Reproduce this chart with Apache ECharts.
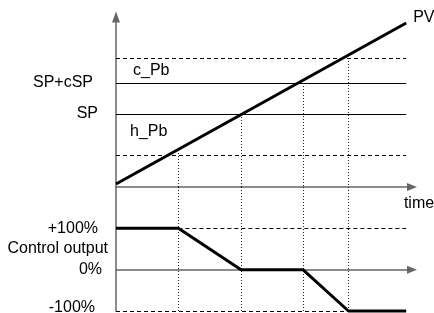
<!DOCTYPE html>
<html>
<head>
<meta charset="utf-8">
<script src="https://cdn.jsdelivr.net/npm/echarts@6/dist/echarts.min.js"></script>
<style>
  html, body { margin: 0; padding: 0; background: #fff; }
  #main { width: 434px; height: 313px; }
</style>
</head>
<body>
<div id="main"></div>
<script>
// values (time 0..100, PV in arbitrary units, output in %)
var timeMax = 102;
var pvTime = [0, 100];
var pvValue = [3, 164];
var lowerBand = 31.5;
var spValue = 73;
var spCspValue = 104;
var upperBand = 129;
var switchTime = [21.5, 43.1, 64.4, 80.1];
var switchPv = [37, 73, 104, 129];
var outTime = [0, 21.5, 43.1, 64.4, 80.1, 100];
var outValue = [100, 100, 0, 0, -100, -100];

var FONT = 'Liberation Sans, Arial, sans-serif';
var AXIS_COLOR = '#666';

function zip(a, b) {
  var r = [];
  for (var i = 0; i < a.length; i++) r.push([a[i], b[i]]);
  return r;
}

var chart = echarts.init(document.getElementById('main'));

var dashed = { color: '#000', width: 1, type: [4, 3] };
var dotted = { color: '#222', width: 1, type: [1, 2] };
var solid = { color: '#000', width: 1, type: 'solid' };

// top panel lines
var topLines = [
  [{ coord: [0, spCspValue], lineStyle: solid, label: { show: true, formatter: 'SP+cSP', distance: 23 } }, { coord: [100, spCspValue] }],
  [{ coord: [0, spValue], lineStyle: solid, label: { show: true, formatter: 'SP', distance: 18 } }, { coord: [100, spValue] }],
  [{ coord: [0, upperBand], lineStyle: dashed }, { coord: [100, upperBand] }],
  [{ coord: [0, lowerBand], lineStyle: dashed }, { coord: [100, lowerBand] }]
];
switchTime.forEach(function (t, i) {
  topLines.push([{ coord: [t, switchPv[i]], lineStyle: dotted }, { coord: [t, 0] }]);
});

// bottom panel lines
var bottomLines = [
  [{ coord: [switchTime[0], 100], lineStyle: dashed }, { coord: [100, 100] }],
  [{ coord: [0, -100], lineStyle: dashed }, { coord: [switchTime[3], -100] }]
];
switchTime.forEach(function (t) {
  bottomLines.push([{ coord: [t, 200], lineStyle: dotted }, { coord: [t, -100] }]);
});

var hidden = { show: false };

var option = {
  animation: false,
  textStyle: { fontFamily: FONT },
  grid: [
    { left: 116, right: 22, top: 17, bottom: 126, containLabel: false, outerBoundsMode: 'none' },
    { left: 116, right: 22, top: 187, bottom: 2, containLabel: false, outerBoundsMode: 'none' }
  ],
  xAxis: [
    {
      type: 'value', gridIndex: 0, min: 0, max: timeMax,
      axisLine: { show: true, onZero: true, symbol: ['none', 'triangle'], symbolSize: [8, 10],
        lineStyle: { color: AXIS_COLOR, width: 1.5 } },
      axisTick: hidden, axisLabel: hidden, splitLine: hidden,
      name: 'time', nameLocation: 'end', nameGap: 7, nameMoveOverlap: false,
      nameTextStyle: { fontSize: 16, color: '#000', fontFamily: FONT, align: 'center', verticalAlign: 'top', padding: [9, 0, 0, 0] }
    },
    {
      type: 'value', gridIndex: 1, min: 0, max: timeMax,
      axisLine: { show: true, onZero: true, symbol: ['none', 'triangle'], symbolSize: [8, 10],
        lineStyle: { color: AXIS_COLOR, width: 1.5 } },
      axisTick: hidden, axisLabel: hidden, splitLine: hidden
    }
  ],
  yAxis: [
    {
      type: 'value', gridIndex: 0, min: 0, max: 170,
      axisLine: { show: true, symbol: ['none', 'triangle'], symbolSize: [8, 11],
        lineStyle: { color: AXIS_COLOR, width: 1.5 } },
      axisTick: hidden, axisLabel: hidden, splitLine: hidden
    },
    {
      type: 'value', gridIndex: 1, min: -100, max: 200, interval: 100,
      axisLine: { show: true, onZero: false, lineStyle: { color: AXIS_COLOR, width: 1.5 } },
      axisTick: hidden, splitLine: hidden,
      axisLabel: {
        show: true, margin: 14, fontSize: 16, color: '#000', fontFamily: FONT,
        showMinLabel: true, showMaxLabel: true, hideOverlap: false,
        formatter: function (v) {
          if (v === 100) return '{p|+100%}';
          if (v === -100) return '{m|-100%}';
          if (v === 0) return '0%';
          return '';
        },
        rich: {
          p: { fontSize: 16, color: '#000', fontFamily: FONT, padding: [0, 4, 0, 0] },
          m: { fontSize: 16, color: '#000', fontFamily: FONT, padding: [0, 7, 6, 0] }
        }
      },
      name: 'Control output', nameLocation: 'middle', nameRotate: 0, nameGap: 8, nameMoveOverlap: false,
      nameTextStyle: { fontSize: 16, color: '#000', fontFamily: FONT }
    }
  ],
  series: [
    {
      name: 'PV', type: 'line', xAxisIndex: 0, yAxisIndex: 0,
      data: zip(pvTime, pvValue), symbol: 'none', clip: false, z: 5,
      lineStyle: { color: '#000', width: 3 },
      endLabel: { show: true, formatter: 'PV', distance: 7, offset: [0, -5], fontSize: 16, color: '#000', fontFamily: FONT },
      markLine: {
        silent: true, symbol: ['none', 'none'], animation: false,
        label: { show: false, position: 'start', fontSize: 16, color: '#000', fontFamily: FONT },
        data: topLines
      }
    },
    {
      name: 'output', type: 'line', xAxisIndex: 1, yAxisIndex: 1,
      data: zip(outTime, outValue), symbol: 'none', clip: false, z: 5,
      lineStyle: { color: '#000', width: 3 },
      markLine: {
        silent: true, symbol: ['none', 'none'], animation: false,
        label: { show: false },
        data: bottomLines
      }
    }
  ],
  graphic: [
    { type: 'text', left: 133, top: 63, style: { text: 'c_Pb', fontSize: 16, fill: '#000', fontFamily: FONT } },
    { type: 'text', left: 130, top: 124, style: { text: 'h_Pb', fontSize: 16, fill: '#000', fontFamily: FONT } }
  ]
};

chart.setOption(option);
</script>
</body>
</html>
